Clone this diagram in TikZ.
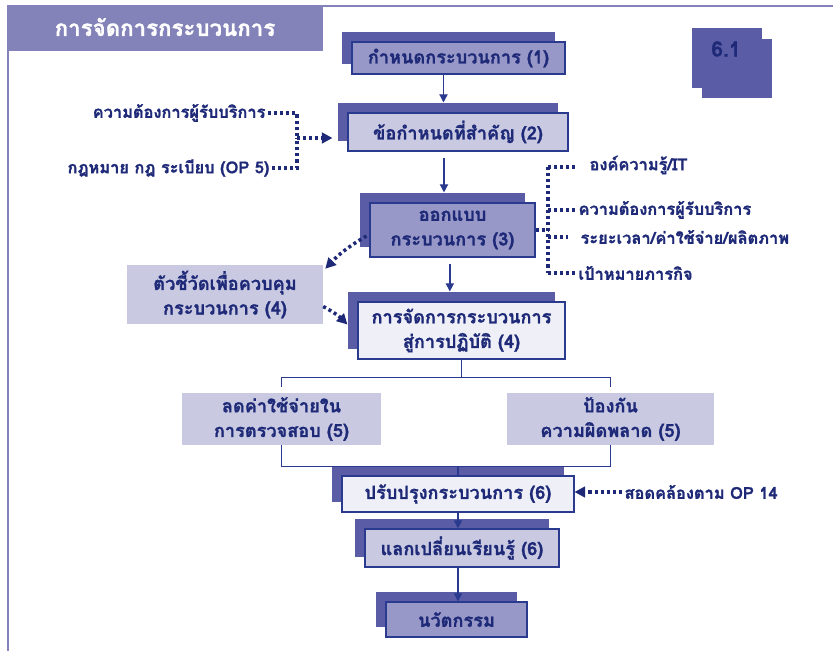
\documentclass[tikz,border=0pt]{standalone}
\usepackage{fontspec}
\newfontfamily\thaifont[Script=Thai, BoldFeatures={FakeBold=1.2}]{Loma}
\usetikzlibrary{arrows.meta,calc,shadows}
\definecolor{ink}{HTML}{1E2A78}
\definecolor{edge}{HTML}{2A3A8E}
\definecolor{shadowc}{HTML}{5A5DA5}
\definecolor{midf}{HTML}{9898C8}
\definecolor{lightf}{HTML}{C9C9E2}
\definecolor{paper}{HTML}{EFF0F7}
\definecolor{frame}{HTML}{8383B9}
\tikzset{pbox/.style={draw=edge, line width=0.9pt, text=ink, align=center, inner sep=2pt, font=\thaifont\bfseries\fontsize{15.5}{21}\selectfont, general shadow={fill=shadowc, draw=none, shadow xshift=-0.3cm, shadow yshift=0.3cm}},
         flat/.style={fill=lightf, text=ink, align=center, inner sep=2pt, font=\thaifont\bfseries\fontsize{15.5}{21}\selectfont},
         side/.style={text=ink, inner sep=2pt, font=\thaifont\bfseries\fontsize{14}{16}\selectfont},
         link/.style={edge, line width=1.2pt},
         arr/.style={-{Triangle[length=7pt,width=7pt]}, edge, line width=1.2pt},
         dotl/.style={ink, line width=3pt, dash pattern=on 2.6pt off 2.6pt},
         dota/.style={dotl, -{Triangle[length=9pt,width=9pt]}}}

\begin{document}
\begin{tikzpicture}[x=0.03cm, y=-0.03cm]
\fill[white] (0,0) rectangle (833,651);
\useasboundingbox (0,0) rectangle (833,651);
% frame and title
\fill[frame] (7,5) rectangle (323,51);
\draw[frame, line width=2.5pt] (323,6) -- (833,6);
\draw[frame, line width=2.5pt] (8,51) -- (8,651);
\node[white, font=\thaifont\bfseries\fontsize{19}{22}\selectfont] (ttl) at (165,27) {การจัดการกระบวนการ};
% 6.1 tag
\fill[shadowc] (692,28) rectangle (762,88); \fill[shadowc] (702,39) rectangle (772,98);
\node[ink, font=\thaifont\bfseries\fontsize{18}{20}\selectfont] (tag) at (726,49) {6.1};
% main chain
\node[pbox, fill=midf, minimum width=6.39cm, minimum height=0.96cm] (b1) at (458.5,58) {กำหนดกระบวนการ (1)};
\node[pbox, fill=lightf, minimum width=6.6cm, minimum height=1.14cm] (b2) at (458,132) {ข้อกำหนดที่สำคัญ (2)};
\node[pbox, fill=midf, minimum width=4.95cm, minimum height=1.62cm] (b3) at (452.5,230) {ออกแบบ\\กระบวนการ (3)};
\node[pbox, fill=paper, minimum width=6.21cm, minimum height=1.71cm] (b4) at (461.5,330.5) {การจัดการกระบวนการ\\สู่การปฏิบัติ (4)};
\node[flat, minimum width=5.88cm, minimum height=1.77cm] (ind) at (225,294.5) {ตัวชี้วัดเพื่อควบคุม\\กระบวนการ (4)};
\node[flat, minimum width=5.97cm, minimum height=1.56cm] (b5l) at (281.5,419) {ลดค่าใช้จ่ายใน\\การตรวจสอบ (5)};
\node[flat, minimum width=6.21cm, minimum height=1.56cm] (b5r) at (610.5,419) {ป้องกัน\\ความผิดพลาด (5)};
\node[pbox, fill=paper, minimum width=6.96cm, minimum height=1.08cm] (b6) at (458,494) {ปรับปรุงกระบวนการ (6)};
\node[pbox, fill=lightf, minimum width=5.82cm, minimum height=1.14cm] (b7) at (462,548) {แลกเปลี่ยนเรียนรู้ (6)};
\node[pbox, fill=midf, minimum width=4.23cm, minimum height=1.05cm] (b8) at (456.5,619.5) {นวัตกรรม};
% inputs
\node[side, anchor=east] (lreq) at (268,113) {ความต้องการผู้รับบริการ};
\node[side, anchor=east] (llaw) at (272,168) {กฎหมาย กฎ ระเบียบ (OP 5)};
\node[side, anchor=west] (k1) at (587,165) {องค์ความรู้/IT};
\node[side, anchor=west] (k2) at (576,210) {ความต้องการผู้รับบริการ};
\node[side, anchor=west] (k3) at (578,237) {ระยะเวลา/ค่าใช้จ่าย/ผลิตภาพ};
\node[side, anchor=west] (k4) at (576,273) {เป้าหมายภารกิจ};
\node[side, anchor=west] (op14) at (622,492) {สอดคล้องตาม OP 14};
% solid flow
\draw[arr, shorten >=0.3cm] ([xshift=-0.45cm]b1.south) -- ([xshift=-0.45cm]b1.south |- b2.north);
\draw[arr, shorten <=0.2cm, shorten >=0.3cm] ([xshift=-0.42cm]b2.south) -- ([xshift=-0.42cm]b2.south |- b3.north);
\draw[arr, shorten <=0.18cm, shorten >=0.3cm] ([xshift=-0.08cm]b3.south) -- ([xshift=-0.08cm]b3.south |- b4.north);
\coordinate (split) at ($(b4.south)+(-5,18)$);
\coordinate (join) at ($(b6.north)+(0,-9)$);
\draw[link] (b4.south) -- (b4.south |- split);
\draw[link, shorten >=0.18cm] (split) -| (b5l.north);
\draw[link, shorten >=0.18cm] (split) -| (b5r.north);
\draw[link] (b5l.south) |- (join) -| (b5r.south);
\draw[link] (join) -- (b6.north);
\draw[arr] (b6.south) -- (b6.south |- b7.north);
\draw[arr] (b7.south -| b6.south) -- (b6.south |- b8.north);
% dotted inputs
\coordinate (lj) at (297,138);
\draw[dotl] (lreq.east) -| (lj);
\draw[dotl] (llaw.east) -| (lj);
\draw[dota, shorten >=0.45cm] (lj) -- (lj -| b2.west);
\coordinate (rtop) at (548,167);
\coordinate (rbot) at (548,273);
\draw[dotl] (b3.east) -- (b3.east -| rtop);
\draw[dotl] (rtop) -- (rbot);
\draw[dotl, shorten >=0.3cm] (rtop) -- (rtop -| k1.west);
\draw[dotl] (rtop |- k2.west) -- (k2.west);
\draw[dotl, shorten >=0.3cm] (rtop |- k3.west) -- (k3.west);
\draw[dotl] (rbot) -- (rbot -| k4.west);
\draw[dota] ($(b3.west)+(-3,6)$) to[bend right=8] ($(ind.north east)+(2,4)$);
\draw[dota] ($(ind.east)+(0,12)$) to[bend left=8] ($(b4.west)+(-10,-6)$);
\draw[dota] (op14.west) -- (op14.west -| b6.east);
\end{tikzpicture}
\end{document}
